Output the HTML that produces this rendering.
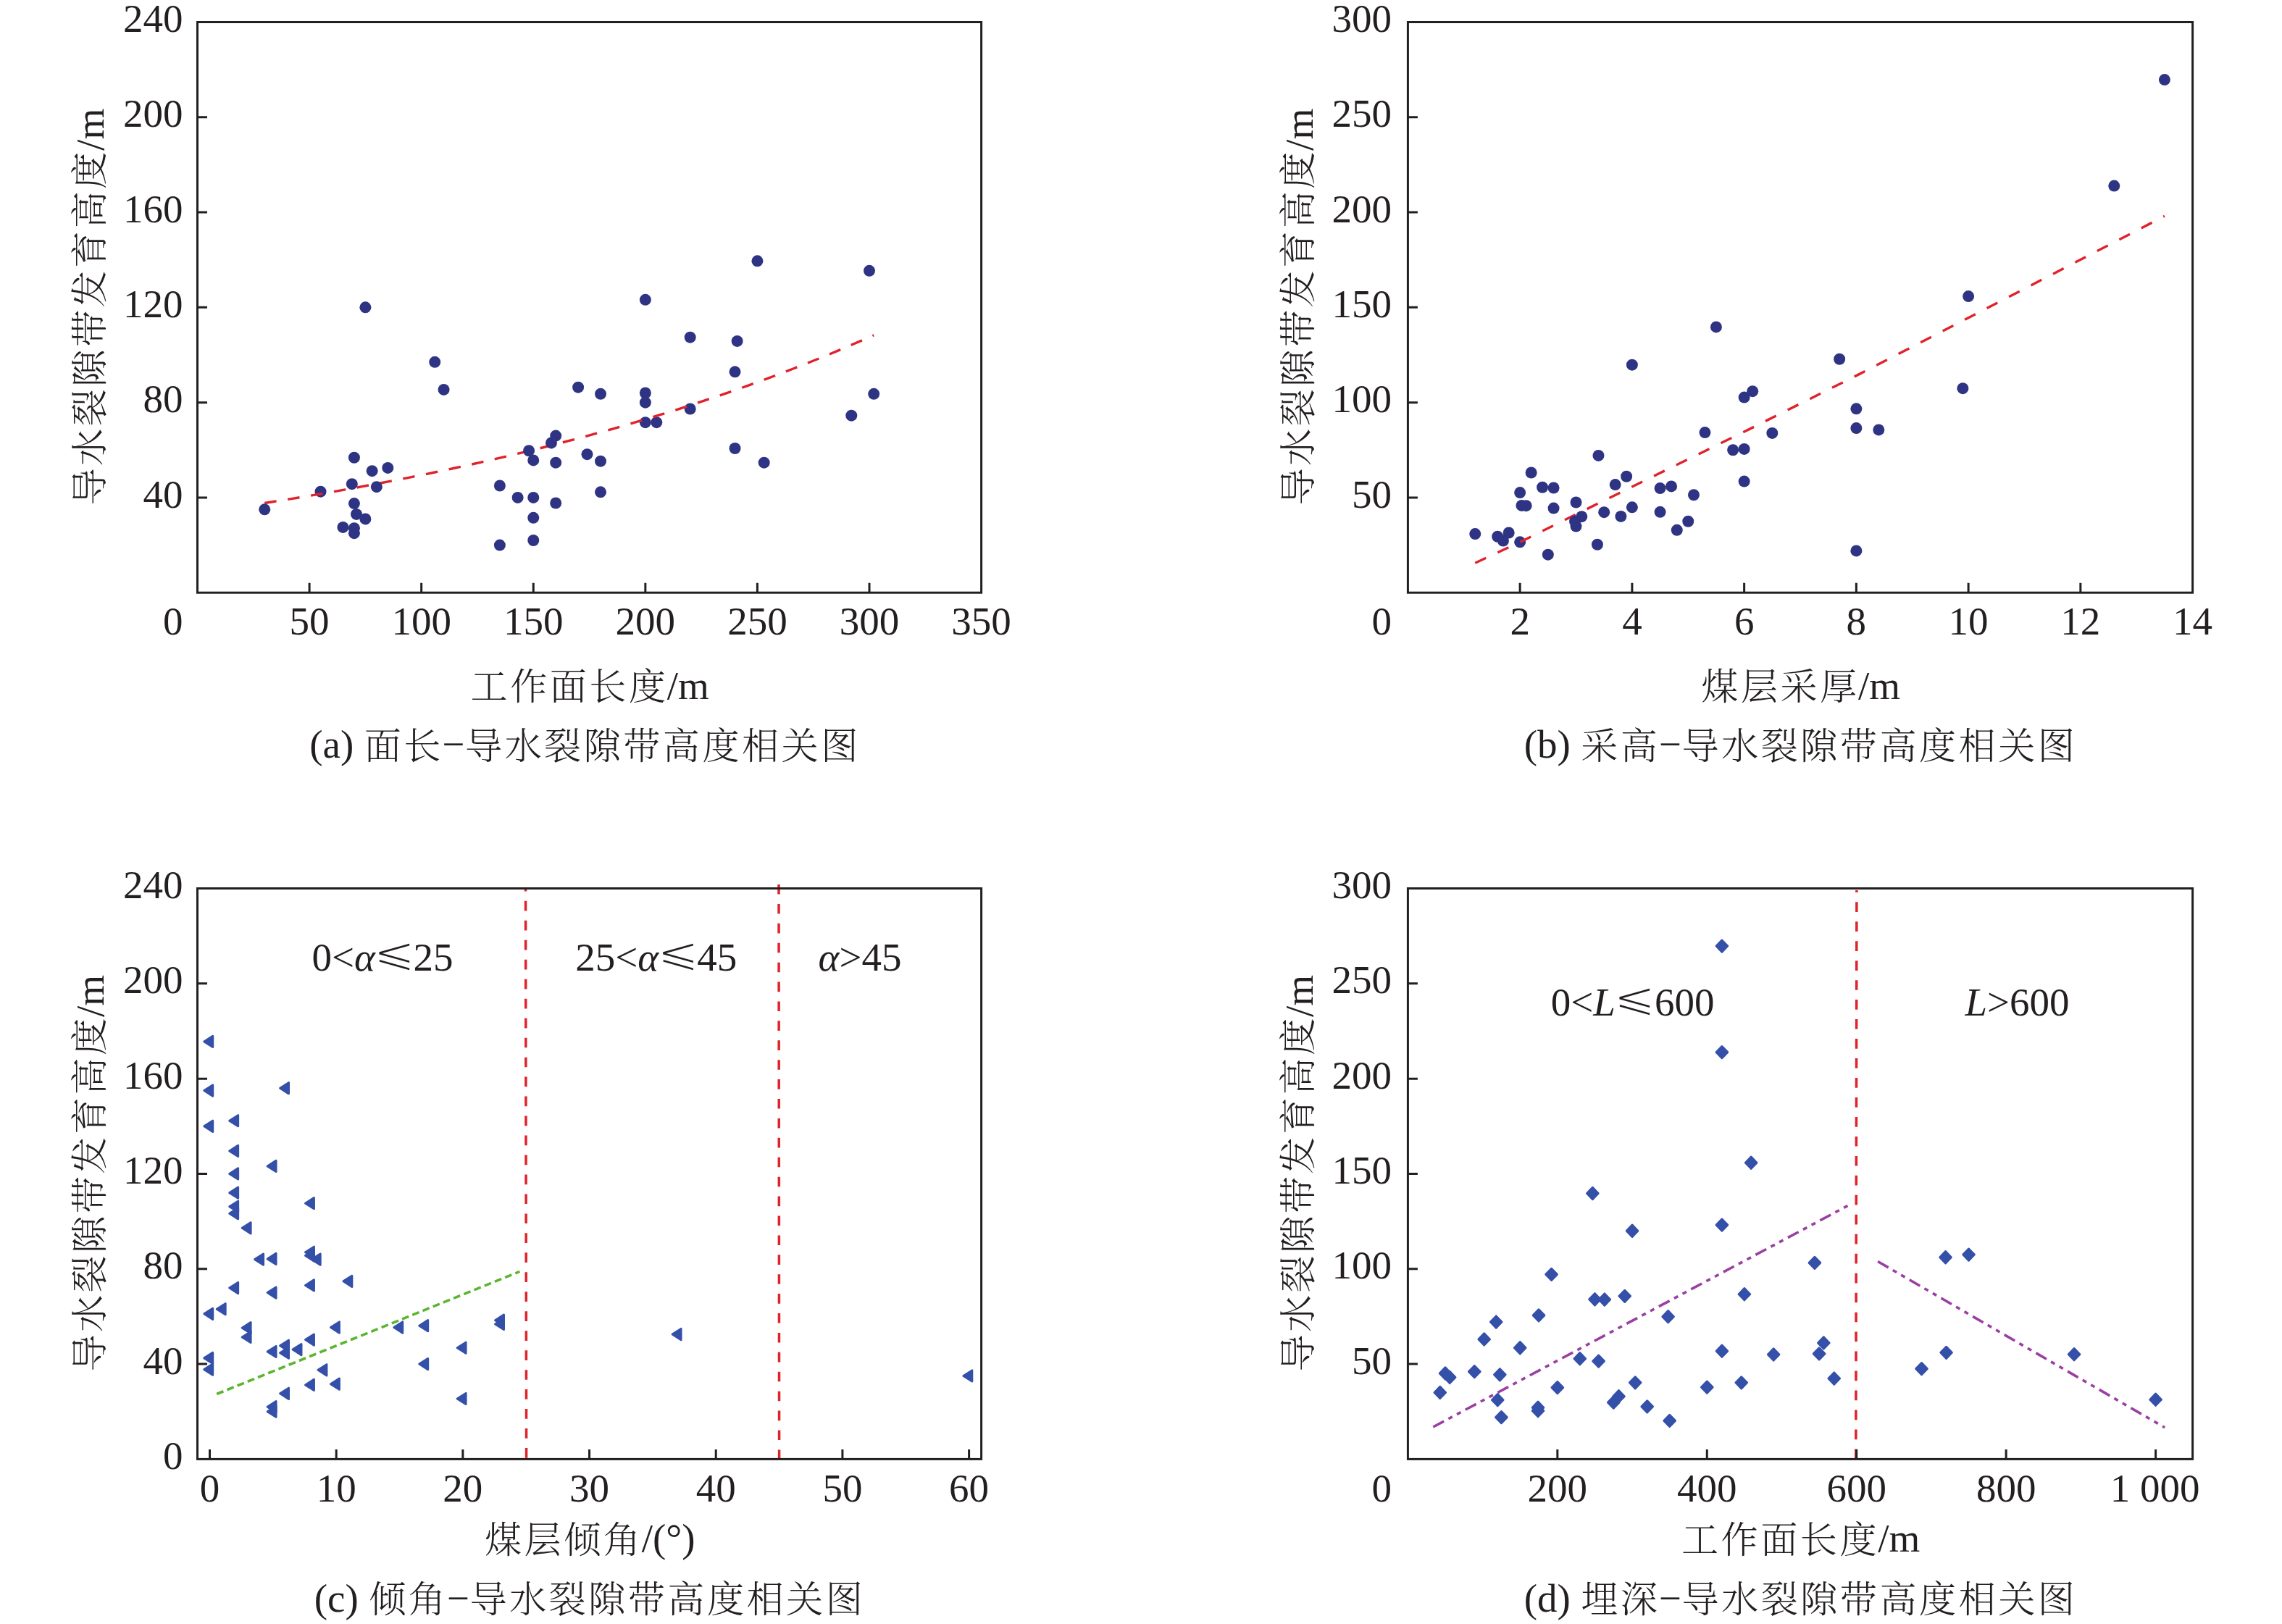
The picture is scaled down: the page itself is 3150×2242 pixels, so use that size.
<!DOCTYPE html>
<html lang="zh"><head><meta charset="utf-8"><title>导水裂隙带高度相关图</title>
<style>html,body{margin:0;padding:0;background:#fff}svg{display:block}</style></head><body>
<svg xmlns="http://www.w3.org/2000/svg" width="3150" height="2242" viewBox="0 0 3150 2242">
<rect width="3150" height="2242" fill="#fff"/>
<g id="panel-a">
<g fill="#2e3483">
<circle cx="442.54" cy="678.71" r="8"/>
<circle cx="890.84" cy="583.2" r="8"/>
<circle cx="906.3" cy="583.2" r="8"/>
<circle cx="952.68" cy="564.49" r="8"/>
</g>
<path d="M365.25 694.46L377.62 692.52L389.99 690.55L402.35 688.56L414.72 686.53L427.09 684.47L439.45 682.38L451.82 680.26L464.19 678.1L476.55 675.91L488.92 673.68L501.29 671.42L513.65 669.12L526.02 666.79L538.39 664.42L550.75 662.02L563.12 659.58L575.49 657.1L587.85 654.58L600.22 652.02L612.59 649.42L624.96 646.78L637.32 644.1L649.69 641.37L662.06 638.61L674.42 635.8L686.79 632.94L699.16 630.05L711.52 627.1L723.89 624.12L736.26 621.08L748.62 618L760.99 614.87L773.36 611.68L785.72 608.45L798.09 605.17L810.46 601.84L822.83 598.46L835.19 595.02L847.56 591.53L859.93 587.99L872.29 584.38L884.66 580.73L897.03 577.01L909.39 573.24L921.76 569.41L934.13 565.52L946.49 561.57L958.86 557.55L971.23 553.47L983.59 549.33L995.96 545.13L1008.33 540.86L1020.69 536.52L1033.06 532.11L1045.43 527.64L1057.8 523.09L1070.16 518.48L1082.53 513.79L1094.9 509.03L1107.26 504.19L1119.63 499.28L1132 494.29L1144.36 489.23L1156.73 484.08L1169.1 478.86L1181.46 473.55L1193.83 468.16L1206.2 462.68L1206.2 462.68" fill="none" stroke="#e0222b" stroke-width="3.4" stroke-dasharray="16.5 15.83" stroke-dashoffset="0" stroke-linecap="butt"/>
<g fill="#2e3483">
<circle cx="365.25" cy="703.33" r="8"/>
<circle cx="473.46" cy="727.94" r="8"/>
<circle cx="488.92" cy="729.26" r="8"/>
<circle cx="488.92" cy="736.15" r="8"/>
<circle cx="504.38" cy="716.46" r="8"/>
<circle cx="492.01" cy="709.89" r="8"/>
<circle cx="488.92" cy="695.12" r="8"/>
<circle cx="485.83" cy="668.21" r="8"/>
<circle cx="488.92" cy="631.78" r="8"/>
<circle cx="513.65" cy="650.16" r="8"/>
<circle cx="535.3" cy="645.89" r="8"/>
<circle cx="519.84" cy="672.15" r="8"/>
<circle cx="504.38" cy="424.35" r="8"/>
<circle cx="600.22" cy="499.84" r="8"/>
<circle cx="612.59" cy="537.91" r="8"/>
<circle cx="689.88" cy="670.51" r="8"/>
<circle cx="689.88" cy="752.56" r="8"/>
<circle cx="714.62" cy="686.92" r="8"/>
<circle cx="736.26" cy="686.92" r="8"/>
<circle cx="736.26" cy="714.81" r="8"/>
<circle cx="736.26" cy="745.99" r="8"/>
<circle cx="736.26" cy="635.39" r="8"/>
<circle cx="730.07" cy="622.26" r="8"/>
<circle cx="760.99" cy="611.43" r="8"/>
<circle cx="767.17" cy="601.58" r="8"/>
<circle cx="767.17" cy="638.67" r="8"/>
<circle cx="767.17" cy="694.47" r="8"/>
<circle cx="798.09" cy="534.63" r="8"/>
<circle cx="810.46" cy="627.18" r="8"/>
<circle cx="829.01" cy="543.82" r="8"/>
<circle cx="829.01" cy="636.7" r="8"/>
<circle cx="829.01" cy="679.37" r="8"/>
<circle cx="890.84" cy="413.85" r="8"/>
<circle cx="890.84" cy="542.51" r="8"/>
<circle cx="890.84" cy="555.63" r="8"/>
<circle cx="952.68" cy="465.7" r="8"/>
<circle cx="1017.6" cy="470.96" r="8"/>
<circle cx="1014.51" cy="513.29" r="8"/>
<circle cx="1014.51" cy="618.98" r="8"/>
<circle cx="1045.43" cy="360.35" r="8"/>
<circle cx="1054.7" cy="638.67" r="8"/>
<circle cx="1175.28" cy="573.68" r="8"/>
<circle cx="1200.01" cy="373.81" r="8"/>
<circle cx="1206.2" cy="543.82" r="8"/>
</g>
<rect x="272.5" y="30.5" width="1082.1" height="787.7" fill="none" stroke="#231f20" stroke-width="3"/>
<path d="M427.09 818.2V804.7M581.67 818.2V804.7M736.26 818.2V804.7M890.84 818.2V804.7M1045.43 818.2V804.7M1200.01 818.2V804.7M272.5 686.92H286M272.5 555.63H286M272.5 424.35H286M272.5 293.07H286M272.5 161.78H286" fill="none" stroke="#231f20" stroke-width="3"/>
<g font-family="'Liberation Serif', 'Noto Serif CJK SC', serif" font-size="55" fill="#231f20">
<text x="427.09" y="876.4" text-anchor="middle">50</text>
<text x="581.67" y="876.4" text-anchor="middle">100</text>
<text x="736.26" y="876.4" text-anchor="middle">150</text>
<text x="890.84" y="876.4" text-anchor="middle">200</text>
<text x="1045.43" y="876.4" text-anchor="middle">250</text>
<text x="1200.01" y="876.4" text-anchor="middle">300</text>
<text x="1354.6" y="876.4" text-anchor="middle">350</text>
<text x="252.6" y="700.52" text-anchor="end">40</text>
<text x="252.6" y="569.23" text-anchor="end">80</text>
<text x="252.6" y="437.95" text-anchor="end">120</text>
<text x="252.6" y="306.67" text-anchor="end">160</text>
<text x="252.6" y="175.38" text-anchor="end">200</text>
<text x="252.6" y="44.1" text-anchor="end">240</text>
<text x="252.6" y="876.4" text-anchor="end">0</text>
</g>
<text transform="translate(143.2 424.35) rotate(-90)" text-anchor="middle" font-family="'Liberation Serif', 'Noto Serif CJK SC', serif" font-size="55" fill="#231f20"><tspan font-size="51.2" font-weight="300" letter-spacing="3.4" dx="0.7" dy="-1.6">导水裂隙带发育高度</tspan><tspan dy="1.6" dx="-1.7">/m</tspan></text>
<text x="813.55" y="964.6" text-anchor="middle" font-family="'Liberation Serif', 'Noto Serif CJK SC', serif" font-size="55" fill="#231f20"><tspan font-size="51.2" font-weight="300" letter-spacing="3.4" dx="0.7" dy="1.4">工作面长度</tspan><tspan dy="-1.4" dx="-1.7">/m</tspan></text>
<text x="427.2" y="1046.4" font-family="'Liberation Serif', 'Noto Serif CJK SC', serif" font-size="55" fill="#231f20"><tspan>(a) </tspan><tspan font-size="51.2" font-weight="300" letter-spacing="3.4" dx="0.7" dy="1.4">面长</tspan><tspan dy="-1.4" dx="-1.7">−</tspan><tspan font-size="51.2" font-weight="300" letter-spacing="3.4" dx="0.7" dy="1.4">导水裂隙带高度相关图</tspan></text>
</g>
<g id="panel-b">
<g fill="#2e3483">
<circle cx="2098.14" cy="748.36" r="8"/>
</g>
<path d="M2036.25 777.24L2098.14 748.36L2252.89 671.95L2407.63 596.07L2562.37 518.61L2717.11 438.79L2987.91 298.32" fill="none" stroke="#e0222b" stroke-width="3.4" stroke-dasharray="16.5 17.81" stroke-dashoffset="0" stroke-linecap="butt"/>
<g fill="#2e3483">
<circle cx="2036.25" cy="737.07" r="8"/>
<circle cx="2067.19" cy="740.74" r="8"/>
<circle cx="2074.93" cy="746.52" r="8"/>
<circle cx="2082.67" cy="735.49" r="8"/>
<circle cx="2098.14" cy="680.09" r="8"/>
<circle cx="2100.46" cy="697.94" r="8"/>
<circle cx="2106.65" cy="698.21" r="8"/>
<circle cx="2113.62" cy="652.52" r="8"/>
<circle cx="2129.09" cy="672.74" r="8"/>
<circle cx="2144.57" cy="673.53" r="8"/>
<circle cx="2144.57" cy="701.62" r="8"/>
<circle cx="2136.83" cy="765.69" r="8"/>
<circle cx="2175.51" cy="693.48" r="8"/>
<circle cx="2175.51" cy="726.56" r="8"/>
<circle cx="2173.97" cy="719.47" r="8"/>
<circle cx="2183.25" cy="713.17" r="8"/>
<circle cx="2206.46" cy="628.89" r="8"/>
<circle cx="2204.92" cy="751.77" r="8"/>
<circle cx="2214.2" cy="707.13" r="8"/>
<circle cx="2229.67" cy="669.06" r="8"/>
<circle cx="2237.41" cy="712.91" r="8"/>
<circle cx="2245.15" cy="657.77" r="8"/>
<circle cx="2252.89" cy="700.31" r="8"/>
<circle cx="2252.89" cy="503.65" r="8"/>
<circle cx="2291.57" cy="674.05" r="8"/>
<circle cx="2291.57" cy="706.87" r="8"/>
<circle cx="2307.05" cy="671.43" r="8"/>
<circle cx="2314.78" cy="731.82" r="8"/>
<circle cx="2330.26" cy="719.74" r="8"/>
<circle cx="2337.99" cy="683.24" r="8"/>
<circle cx="2353.47" cy="597.12" r="8"/>
<circle cx="2368.94" cy="451.39" r="8"/>
<circle cx="2392.15" cy="621.27" r="8"/>
<circle cx="2407.63" cy="619.96" r="8"/>
<circle cx="2407.63" cy="664.6" r="8"/>
<circle cx="2407.63" cy="548.54" r="8"/>
<circle cx="2419.23" cy="540.14" r="8"/>
<circle cx="2446.31" cy="597.91" r="8"/>
<circle cx="2539.16" cy="495.77" r="8"/>
<circle cx="2562.37" cy="564.3" r="8"/>
<circle cx="2562.37" cy="591.08" r="8"/>
<circle cx="2562.37" cy="760.44" r="8"/>
<circle cx="2593.32" cy="593.44" r="8"/>
<circle cx="2709.38" cy="536.2" r="8"/>
<circle cx="2717.11" cy="409.12" r="8"/>
<circle cx="2918.28" cy="256.57" r="8"/>
<circle cx="2987.91" cy="110.06" r="8"/>
</g>
<rect x="1943.4" y="30.5" width="1083.2" height="787.7" fill="none" stroke="#231f20" stroke-width="3"/>
<path d="M2098.14 818.2V804.7M2252.89 818.2V804.7M2407.63 818.2V804.7M2562.37 818.2V804.7M2717.11 818.2V804.7M2871.86 818.2V804.7M1943.4 686.92H1956.9M1943.4 555.63H1956.9M1943.4 424.35H1956.9M1943.4 293.07H1956.9M1943.4 161.78H1956.9" fill="none" stroke="#231f20" stroke-width="3"/>
<g font-family="'Liberation Serif', 'Noto Serif CJK SC', serif" font-size="55" fill="#231f20">
<text x="2098.14" y="876.4" text-anchor="middle">2</text>
<text x="2252.89" y="876.4" text-anchor="middle">4</text>
<text x="2407.63" y="876.4" text-anchor="middle">6</text>
<text x="2562.37" y="876.4" text-anchor="middle">8</text>
<text x="2717.11" y="876.4" text-anchor="middle">10</text>
<text x="2871.86" y="876.4" text-anchor="middle">12</text>
<text x="3026.6" y="876.4" text-anchor="middle">14</text>
<text x="1921.1" y="700.52" text-anchor="end">50</text>
<text x="1921.1" y="569.23" text-anchor="end">100</text>
<text x="1921.1" y="437.95" text-anchor="end">150</text>
<text x="1921.1" y="306.67" text-anchor="end">200</text>
<text x="1921.1" y="175.38" text-anchor="end">250</text>
<text x="1921.1" y="44.1" text-anchor="end">300</text>
<text x="1921.1" y="876.4" text-anchor="end">0</text>
</g>
<text transform="translate(1811.7 424.35) rotate(-90)" text-anchor="middle" font-family="'Liberation Serif', 'Noto Serif CJK SC', serif" font-size="55" fill="#231f20"><tspan font-size="51.2" font-weight="300" letter-spacing="3.4" dx="0.7" dy="-1.6">导水裂隙带发育高度</tspan><tspan dy="1.6" dx="-1.7">/m</tspan></text>
<text x="2485" y="964.6" text-anchor="middle" font-family="'Liberation Serif', 'Noto Serif CJK SC', serif" font-size="55" fill="#231f20"><tspan font-size="51.2" font-weight="300" letter-spacing="3.4" dx="0.7" dy="1.4">煤层采厚</tspan><tspan dy="-1.4" dx="-1.7">/m</tspan></text>
<text x="2103.7" y="1046.4" font-family="'Liberation Serif', 'Noto Serif CJK SC', serif" font-size="55" fill="#231f20"><tspan>(b) </tspan><tspan font-size="51.2" font-weight="300" letter-spacing="3.4" dx="0.7" dy="1.4">采高</tspan><tspan dy="-1.4" dx="-1.7">−</tspan><tspan font-size="51.2" font-weight="300" letter-spacing="3.4" dx="0.7" dy="1.4">导水裂隙带高度相关图</tspan></text>
</g>
<g id="panel-c">
<g fill="#3450a8" stroke="#3450a8" stroke-width="3" stroke-linejoin="round">
<path d="M281.8 1437.92L293.7 1430.32V1445.52Z"/>
<path d="M281.8 1505.55L293.7 1497.95V1513.15Z"/>
<path d="M386.61 1502.27L398.51 1494.67V1509.87Z"/>
<path d="M281.8 1554.79L293.7 1547.19V1562.39Z"/>
<path d="M316.74 1547.24L328.64 1539.64V1554.84Z"/>
<path d="M316.74 1588.93L328.64 1581.33V1596.53Z"/>
<path d="M369.14 1609.94L381.04 1602.34V1617.54Z"/>
<path d="M316.74 1620.45L328.64 1612.85V1628.05Z"/>
<path d="M316.74 1646.71L328.64 1639.11V1654.31Z"/>
<path d="M316.74 1665.75L328.64 1658.15V1673.35Z"/>
<path d="M316.74 1675.27L328.64 1667.67V1682.87Z"/>
<path d="M334.2 1695.3L346.1 1687.7V1702.9Z"/>
<path d="M421.55 1661.16L433.45 1653.56V1668.76Z"/>
<path d="M421.55 1728.79L433.45 1721.19V1736.39Z"/>
<path d="M421.55 1733.38L433.45 1725.78V1740.98Z"/>
<path d="M430.28 1738.63L442.18 1731.04V1746.23Z"/>
<path d="M351.67 1738.63L363.57 1731.04V1746.23Z"/>
<path d="M369.14 1737.98L381.04 1730.38V1745.58Z"/>
<path d="M316.74 1778.03L328.64 1770.43V1785.63Z"/>
<path d="M369.14 1784.6L381.04 1777V1792.2Z"/>
<path d="M421.55 1774.42L433.45 1766.82V1782.02Z"/>
<path d="M473.95 1768.84L485.85 1761.24V1776.44Z"/>
<path d="M281.8 1813.81L293.7 1806.21V1821.41Z"/>
<path d="M299.27 1807.25L311.17 1799.65V1814.85Z"/>
<path d="M334.2 1833.18L346.1 1825.58V1840.78Z"/>
<path d="M334.2 1845.99L346.1 1838.39V1853.59Z"/>
<path d="M456.48 1832.53L468.38 1824.93V1840.13Z"/>
<path d="M421.55 1849.6L433.45 1842V1857.2Z"/>
<path d="M386.61 1857.8L398.51 1850.2V1865.4Z"/>
<path d="M386.61 1867.65L398.51 1860.05V1875.25Z"/>
<path d="M369.14 1866.01L381.04 1858.41V1873.61Z"/>
<path d="M404.08 1863.06L415.98 1855.46V1870.66Z"/>
<path d="M281.8 1874.88L293.7 1867.28V1882.48Z"/>
<path d="M281.8 1890.63L293.7 1883.03V1898.23Z"/>
<path d="M439.01 1891.29L450.91 1883.69V1898.89Z"/>
<path d="M421.55 1911.97L433.45 1904.37V1919.57Z"/>
<path d="M456.48 1910.66L468.38 1903.06V1918.26Z"/>
<path d="M386.61 1923.79L398.51 1916.19V1931.39Z"/>
<path d="M369.14 1942.18L381.04 1934.58V1949.78Z"/>
<path d="M369.14 1948.74L381.04 1941.14V1956.34Z"/>
<path d="M543.82 1832.53L555.73 1824.93V1840.13Z"/>
<path d="M578.76 1830.23L590.66 1822.63V1837.83Z"/>
<path d="M578.76 1883.08L590.66 1875.48V1890.68Z"/>
<path d="M631.17 1860.76L643.07 1853.16V1868.36Z"/>
<path d="M631.17 1931.01L643.07 1923.41V1938.61Z"/>
<path d="M683.57 1822.68L695.47 1815.08V1830.28Z"/>
<path d="M683.57 1827.93L695.47 1820.33V1835.53Z"/>
<path d="M928.13 1842.05L940.03 1834.45V1849.65Z"/>
<path d="M1329.9 1899.5L1341.8 1891.9V1907.1Z"/>
</g>
<path d="M299.2 1924.5L717.4 1755.4" fill="none" stroke="#5cb531" stroke-width="3.6" stroke-dasharray="9.9 5.43" stroke-dashoffset="0" stroke-linecap="butt"/>
<path d="M725.5 1225.5L726.6 2013.6" fill="none" stroke="#e0222b" stroke-width="3.5" stroke-dasharray="13.7 13.27" stroke-dashoffset="8.6" stroke-linecap="butt"/>
<path d="M1075 1221L1075.6 2013.6" fill="none" stroke="#e0222b" stroke-width="3.5" stroke-dasharray="13.6 13.31" stroke-dashoffset="0" stroke-linecap="butt"/>
<rect x="272.5" y="1226.5" width="1082.1" height="787.9" fill="none" stroke="#231f20" stroke-width="3"/>
<path d="M289.5 2014.4V2000.9M464.18 2014.4V2000.9M638.87 2014.4V2000.9M813.55 2014.4V2000.9M988.23 2014.4V2000.9M1162.92 2014.4V2000.9M1337.6 2014.4V2000.9M272.5 1883.08H286M272.5 1751.77H286M272.5 1620.45H286M272.5 1489.13H286M272.5 1357.82H286" fill="none" stroke="#231f20" stroke-width="3"/>
<g font-family="'Liberation Serif', 'Noto Serif CJK SC', serif" font-size="55" fill="#231f20">
<text x="289.5" y="2072.6" text-anchor="middle">0</text>
<text x="464.18" y="2072.6" text-anchor="middle">10</text>
<text x="638.87" y="2072.6" text-anchor="middle">20</text>
<text x="813.55" y="2072.6" text-anchor="middle">30</text>
<text x="988.23" y="2072.6" text-anchor="middle">40</text>
<text x="1162.92" y="2072.6" text-anchor="middle">50</text>
<text x="1337.6" y="2072.6" text-anchor="middle">60</text>
<text x="252.6" y="2028" text-anchor="end">0</text>
<text x="252.6" y="1896.68" text-anchor="end">40</text>
<text x="252.6" y="1765.37" text-anchor="end">80</text>
<text x="252.6" y="1634.05" text-anchor="end">120</text>
<text x="252.6" y="1502.73" text-anchor="end">160</text>
<text x="252.6" y="1371.42" text-anchor="end">200</text>
<text x="252.6" y="1240.1" text-anchor="end">240</text>
</g>
<text transform="translate(143.2 1620.45) rotate(-90)" text-anchor="middle" font-family="'Liberation Serif', 'Noto Serif CJK SC', serif" font-size="55" fill="#231f20"><tspan font-size="51.2" font-weight="300" letter-spacing="3.4" dx="0.7" dy="-1.6">导水裂隙带发育高度</tspan><tspan dy="1.6" dx="-1.7">/m</tspan></text>
<text x="813.55" y="2142.4" text-anchor="middle" font-family="'Liberation Serif', 'Noto Serif CJK SC', serif" font-size="55" fill="#231f20"><tspan font-size="51.2" font-weight="300" letter-spacing="3.4" dx="0.7" dy="1.4">煤层倾角</tspan><tspan dy="-1.4" dx="-1.7">/(°)</tspan></text>
<text x="433.7" y="2224.7" font-family="'Liberation Serif', 'Noto Serif CJK SC', serif" font-size="55" fill="#231f20"><tspan>(c) </tspan><tspan font-size="51.2" font-weight="300" letter-spacing="3.4" dx="0.7" dy="1.4">倾角</tspan><tspan dy="-1.4" dx="-1.7">−</tspan><tspan font-size="51.2" font-weight="300" letter-spacing="3.4" dx="0.7" dy="1.4">导水裂隙带高度相关图</tspan></text>
<g font-family="'Liberation Serif', 'Noto Serif CJK SC', serif" font-size="55" fill="#231f20">
<text x="430.5" y="1340.1">0&lt;<tspan font-style="italic">α</tspan></text>
<text transform="translate(516.7 1335.6) scale(1.27 1)" font-family="'DejaVu Math TeX Gyre', 'DejaVu Sans', sans-serif" font-size="54.5" fill="#231f20" stroke="#fff" stroke-width="1.7">⩽</text>
<text x="570.5" y="1340.1">25</text>
<text x="794.2" y="1340.1">25&lt;<tspan font-style="italic">α</tspan></text>
<text transform="translate(908.4 1335.6) scale(1.27 1)" font-family="'DejaVu Math TeX Gyre', 'DejaVu Sans', sans-serif" font-size="54.5" fill="#231f20" stroke="#fff" stroke-width="1.7">⩽</text>
<text x="962.3" y="1340.1">45</text>
<text x="1129.5" y="1340.1"><tspan font-style="italic">α</tspan>&gt;45</text>
</g>
</g>
<g id="panel-d">
<g fill="#3450a8" stroke="#3450a8" stroke-width="3" stroke-linejoin="round">
<path d="M1987.78 1914.38L1995.58 1922.48L1987.78 1930.58L1979.98 1922.48Z"/>
<path d="M1995.01 1887.85L2002.81 1895.95L1995.01 1904.05L1987.21 1895.95Z"/>
<path d="M2001.2 1893.37L2009 1901.47L2001.2 1909.57L1993.4 1901.47Z"/>
<path d="M2035.27 1885.49L2043.07 1893.59L2035.27 1901.69L2027.47 1893.59Z"/>
<path d="M2048.68 1840.84L2056.48 1848.94L2048.68 1857.04L2040.88 1848.94Z"/>
<path d="M2065.2 1816.94L2073 1825.04L2065.2 1833.14L2057.4 1825.04Z"/>
<path d="M2070.36 1889.69L2078.16 1897.79L2070.36 1905.89L2062.56 1897.79Z"/>
<path d="M2067.26 1924.62L2075.06 1932.72L2067.26 1940.82L2059.46 1932.72Z"/>
<path d="M2072.43 1948.52L2080.23 1956.62L2072.43 1964.72L2064.62 1956.62Z"/>
<path d="M2098.23 1852.66L2106.03 1860.76L2098.23 1868.86L2090.43 1860.76Z"/>
<path d="M2124.03 1807.75L2131.84 1815.85L2124.03 1823.95L2116.23 1815.85Z"/>
<path d="M2123 1935.13L2130.8 1943.23L2123 1951.33L2115.2 1943.23Z"/>
<path d="M2123 1939.59L2130.8 1947.69L2123 1955.79L2115.2 1947.69Z"/>
<path d="M2141.58 1751.28L2149.38 1759.38L2141.58 1767.48L2133.78 1759.38Z"/>
<path d="M2149.84 1907.55L2157.64 1915.65L2149.84 1923.75L2142.04 1915.65Z"/>
<path d="M2180.81 1867.63L2188.61 1875.73L2180.81 1883.83L2173.01 1875.73Z"/>
<path d="M2198.35 1639.4L2206.15 1647.5L2198.35 1655.6L2190.55 1647.5Z"/>
<path d="M2201.45 1785.69L2209.25 1793.79L2201.45 1801.89L2193.65 1793.79Z"/>
<path d="M2214.87 1785.95L2222.67 1794.05L2214.87 1802.15L2207.07 1794.05Z"/>
<path d="M2206.61 1871.04L2214.41 1879.14L2206.61 1887.24L2198.81 1879.14Z"/>
<path d="M2242.74 1781.22L2250.54 1789.32L2242.74 1797.42L2234.94 1789.32Z"/>
<path d="M2253.06 1691.14L2260.86 1699.24L2253.06 1707.34L2245.26 1699.24Z"/>
<path d="M2227.26 1928.04L2235.06 1936.14L2227.26 1944.24L2219.45 1936.14Z"/>
<path d="M2234.48 1919.63L2242.28 1927.73L2234.48 1935.83L2226.68 1927.73Z"/>
<path d="M2257.19 1900.72L2264.99 1908.82L2257.19 1916.92L2249.39 1908.82Z"/>
<path d="M2273.7 1933.81L2281.5 1941.91L2273.7 1950.01L2265.9 1941.91Z"/>
<path d="M2302.61 1809.59L2310.41 1817.69L2302.61 1825.79L2294.81 1817.69Z"/>
<path d="M2304.67 1953.25L2312.47 1961.35L2304.67 1969.45L2296.87 1961.35Z"/>
<path d="M2356.28 1907.02L2364.08 1915.12L2356.28 1923.22L2348.48 1915.12Z"/>
<path d="M2376.92 1857.12L2384.72 1865.22L2376.92 1873.32L2369.12 1865.22Z"/>
<path d="M2376.92 1683L2384.72 1691.1L2376.92 1699.2L2369.12 1691.1Z"/>
<path d="M2403.76 1900.72L2411.56 1908.82L2403.76 1916.92L2395.96 1908.82Z"/>
<path d="M2407.89 1778.6L2415.69 1786.7L2407.89 1794.8L2400.09 1786.7Z"/>
<path d="M2417.18 1597.12L2424.98 1605.22L2417.18 1613.32L2409.38 1605.22Z"/>
<path d="M2448.15 1861.85L2455.95 1869.95L2448.15 1878.05L2440.35 1869.95Z"/>
<path d="M2504.92 1735.26L2512.72 1743.36L2504.92 1751.46L2497.12 1743.36Z"/>
<path d="M2511.11 1860.8L2518.91 1868.9L2511.11 1877L2503.31 1868.9Z"/>
<path d="M2517.3 1845.83L2525.1 1853.93L2517.3 1862.03L2509.5 1853.93Z"/>
<path d="M2531.75 1894.94L2539.55 1903.04L2531.75 1911.14L2523.95 1903.04Z"/>
<path d="M2376.92 1444.53L2384.72 1452.63L2376.92 1460.73L2369.12 1452.63Z"/>
<path d="M2376.92 1297.98L2384.72 1306.08L2376.92 1314.18L2369.12 1306.08Z"/>
<path d="M2652.52 1881.55L2660.32 1889.65L2652.52 1897.75L2644.72 1889.65Z"/>
<path d="M2685.55 1727.65L2693.35 1735.75L2685.55 1743.85L2677.75 1735.75Z"/>
<path d="M2686.58 1859.23L2694.38 1867.33L2686.58 1875.43L2678.78 1867.33Z"/>
<path d="M2717.55 1723.97L2725.35 1732.07L2717.55 1740.17L2709.75 1732.07Z"/>
<path d="M2863.09 1861.59L2870.89 1869.69L2863.09 1877.79L2855.29 1869.69Z"/>
<path d="M2975.6 1924.1L2983.4 1932.2L2975.6 1940.3L2967.8 1932.2Z"/>
</g>
<path d="M1978.29 1970.01L2550.95 1664.31" fill="none" stroke="#9b3fa2" stroke-width="3.6" stroke-dasharray="16.8 7.1 6.1 7.1 6.1 7.25" stroke-dashoffset="0" stroke-linecap="butt"/>
<path d="M2592.1 1741.5L2988.19 1970.8" fill="none" stroke="#9b3fa2" stroke-width="3.6" stroke-dasharray="16.8 7.1 6.1 7.1 6.1 7.25" stroke-dashoffset="0" stroke-linecap="butt"/>
<path d="M2562.9 1229L2561.8 2013.6" fill="none" stroke="#e0222b" stroke-width="3.5" stroke-dasharray="13.7 13.27" stroke-dashoffset="10.7" stroke-linecap="butt"/>
<rect x="1943.4" y="1226.5" width="1083.2" height="787.9" fill="none" stroke="#231f20" stroke-width="3"/>
<path d="M2149.84 2014.4V2000.9M2356.28 2014.4V2000.9M2562.72 2014.4V2000.9M2769.16 2014.4V2000.9M2975.6 2014.4V2000.9M1943.4 1883.08H1956.9M1943.4 1751.77H1956.9M1943.4 1620.45H1956.9M1943.4 1489.13H1956.9M1943.4 1357.82H1956.9" fill="none" stroke="#231f20" stroke-width="3"/>
<g font-family="'Liberation Serif', 'Noto Serif CJK SC', serif" font-size="55" fill="#231f20">
<text x="2149.84" y="2072.6" text-anchor="middle">200</text>
<text x="2356.28" y="2072.6" text-anchor="middle">400</text>
<text x="2562.72" y="2072.6" text-anchor="middle">600</text>
<text x="2769.16" y="2072.6" text-anchor="middle">800</text>
<text x="2974.57" y="2072.6" text-anchor="middle">1 000</text>
<text x="1921.1" y="1896.68" text-anchor="end">50</text>
<text x="1921.1" y="1765.37" text-anchor="end">100</text>
<text x="1921.1" y="1634.05" text-anchor="end">150</text>
<text x="1921.1" y="1502.73" text-anchor="end">200</text>
<text x="1921.1" y="1371.42" text-anchor="end">250</text>
<text x="1921.1" y="1240.1" text-anchor="end">300</text>
<text x="1921.1" y="2072.6" text-anchor="end">0</text>
</g>
<text transform="translate(1811.7 1620.45) rotate(-90)" text-anchor="middle" font-family="'Liberation Serif', 'Noto Serif CJK SC', serif" font-size="55" fill="#231f20"><tspan font-size="51.2" font-weight="300" letter-spacing="3.4" dx="0.7" dy="-1.6">导水裂隙带发育高度</tspan><tspan dy="1.6" dx="-1.7">/m</tspan></text>
<text x="2485" y="2142.4" text-anchor="middle" font-family="'Liberation Serif', 'Noto Serif CJK SC', serif" font-size="55" fill="#231f20"><tspan font-size="51.2" font-weight="300" letter-spacing="3.4" dx="0.7" dy="1.4">工作面长度</tspan><tspan dy="-1.4" dx="-1.7">/m</tspan></text>
<text x="2103.7" y="2224.7" font-family="'Liberation Serif', 'Noto Serif CJK SC', serif" font-size="55" fill="#231f20"><tspan>(d) </tspan><tspan font-size="51.2" font-weight="300" letter-spacing="3.4" dx="0.7" dy="1.4">埋深</tspan><tspan dy="-1.4" dx="-1.7">−</tspan><tspan font-size="51.2" font-weight="300" letter-spacing="3.4" dx="0.7" dy="1.4">导水裂隙带高度相关图</tspan></text>
<g font-family="'Liberation Serif', 'Noto Serif CJK SC', serif" font-size="55" fill="#231f20">
<text x="2140.8" y="1402.1">0&lt;<tspan font-style="italic">L</tspan></text>
<text transform="translate(2228.8 1397.6) scale(1.27 1)" font-family="'DejaVu Math TeX Gyre', 'DejaVu Sans', sans-serif" font-size="54.5" fill="#231f20" stroke="#fff" stroke-width="1.7">⩽</text>
<text x="2284" y="1402.1">600</text>
<text x="2712.5" y="1402.1"><tspan font-style="italic">L</tspan>&gt;600</text>
</g>
</g>
</svg></body></html>
